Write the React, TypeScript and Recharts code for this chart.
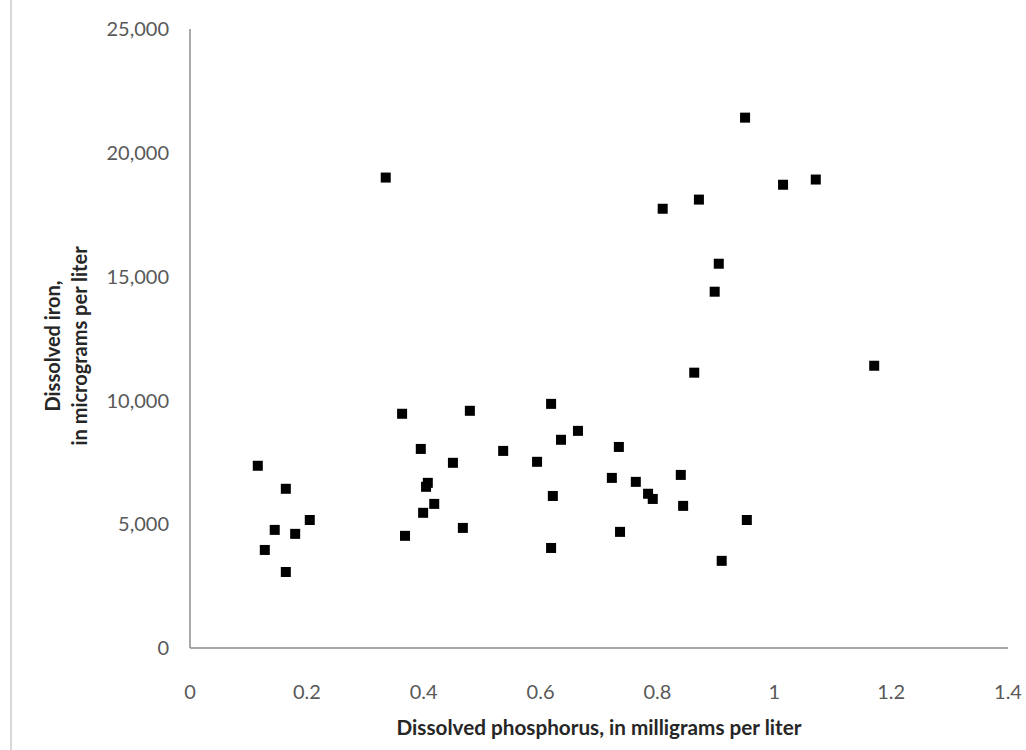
import React from "react";
import { ScatterChart, Scatter, XAxis, YAxis, Label } from "recharts";

const phosphorus = [
  0.116, 0.164, 0.145, 0.18, 0.205, 0.128, 0.164,
  0.363, 0.479, 0.395, 0.536, 0.45, 0.407, 0.404, 0.418, 0.399, 0.467, 0.368,
  0.618, 0.664, 0.635, 0.594, 0.734, 0.722, 0.763, 0.784, 0.792, 0.84, 0.844, 0.621, 0.736, 0.618,
  0.953, 0.91, 0.95, 0.871, 0.809, 0.905, 0.898, 0.863, 0.335, 1.015, 1.071, 1.171,
];
const iron = [
  7360, 6430, 4770, 4610, 5170, 3960, 3070,
  9460, 9580, 8040, 7960, 7480, 6670, 6510, 5820, 5460, 4850, 4530,
  9860, 8770, 8410, 7520, 8120, 6870, 6710, 6230, 6020, 6990, 5740, 6140, 4690, 4040,
  5170, 3520, 21420, 18110, 17740, 15520, 14390, 11120, 19000, 18710, 18920, 11400,
];
const xTicks = [0, 0.2, 0.4, 0.6, 0.8, 1, 1.2, 1.4];
const yTicks = [0, 5000, 10000, 15000, 20000, 25000];
const xTitle = "Dissolved phosphorus, in milligrams per liter";
const yTitleLines = ["Dissolved iron,", "in micrograms per liter"];

const points = phosphorus.map((p, i) => ({ x: p, y: iron[i] }));

const FONT = "Lato, 'Open Sans', sans-serif";

const Square = (props: any) => {
  const { cx, cy } = props;
  if (cx == null || cy == null) return null;
  const s = 10;
  return <rect x={cx - s / 2} y={cy - s / 2} width={s} height={s} fill="#000" />;
};

const XTitle = (props: any) => {
  const vb = props.viewBox || {};
  return (
    <text
      x={vb.x + vb.width / 2}
      y={vb.y + 79}
      textAnchor="middle"
      dominantBaseline="central"
      fontFamily={FONT}
      fontWeight="bold"
      fontSize={20.7}
      fill="#262626"
    >
      {xTitle}
    </text>
  );
};

const YTitle = (props: any) => {
  const vb = props.viewBox || {};
  const cy = vb.y + 317;
  const xs = [52, 79];
  return (
    <g>
      {yTitleLines.map((t, i) => (
        <text
          key={i}
          x={vb.x + xs[i]}
          y={cy}
          transform={`rotate(-90, ${vb.x + xs[i]}, ${cy})`}
          textAnchor="middle"
          dominantBaseline="central"
          fontFamily={FONT}
          fontWeight="bold"
          fontSize={20}
          fill="#262626"
        >
          {t}
        </text>
      ))}
    </g>
  );
};

export default function App() {
  return (
    <div style={{ position: "absolute", left: 0, top: 0, width: 1026, height: 750, background: "#fff" }}>
      <div style={{ position: "absolute", left: 10, top: 0, width: 2, height: 750, background: "#d9d9d9" }} />
      <div style={{ position: "absolute", left: 0, top: 0 }}>
        <ScatterChart width={1026} height={750} margin={{ top: 29, right: 18, bottom: 0, left: 0 }}>
          <XAxis
            type="number"
            dataKey="x"
            domain={[0, 1.4]}
            ticks={xTicks}
            tickFormatter={(v: number) => String(v)}
            height={102}
            tickLine={false}
            tickSize={0}
            tickMargin={37}
            axisLine={{ stroke: "#8c8c8c", strokeWidth: 1.5 }}
            tick={{ fill: "#595959", fontSize: 20, fontFamily: FONT }}
            interval={0}
          >
            <Label content={<XTitle />} />
          </XAxis>
          <YAxis
            type="number"
            dataKey="y"
            domain={[0, 25000]}
            ticks={yTicks}
            tickFormatter={(v: number) => v.toLocaleString("en-US")}
            width={190}
            tickLine={false}
            tickSize={0}
            tickMargin={21}
            axisLine={{ stroke: "#8c8c8c", strokeWidth: 1.5 }}
            tick={{ fill: "#595959", fontSize: 20, fontFamily: FONT }}
            interval={0}
          >
            <Label content={<YTitle />} />
          </YAxis>
          <Scatter data={points} shape={<Square />} isAnimationActive={false} />
        </ScatterChart>
      </div>
    </div>
  );
}
